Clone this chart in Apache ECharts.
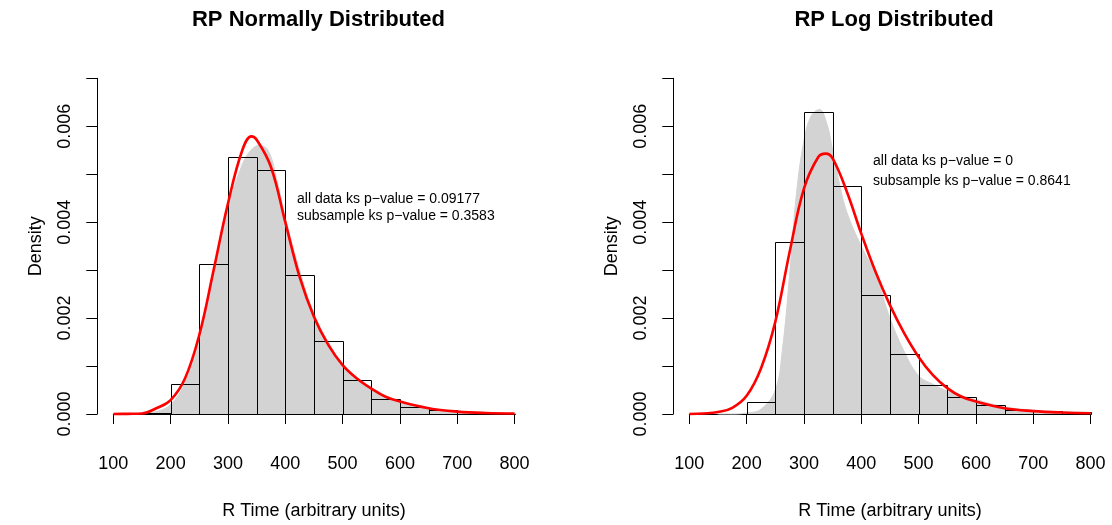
<!DOCTYPE html>
<html>
<head>
<meta charset="utf-8">
<script src="https://cdn.jsdelivr.net/npm/echarts@6/dist/echarts.min.js"></script>
<style>html,body{margin:0;padding:0;background:#fff}#c{width:1112px;height:525px}</style>
</head>
<body>
<div id="c"></div>
<script>
// ---------- data ----------
const titles = ['RP Normally Distributed', 'RP Log Distributed'];
const xAxisTitle = 'R Time (arbitrary units)';
const yAxisTitle = 'Density';

// histogram bins (left edge, right edge) and densities
const leftBinLo  = [150, 200, 250, 300, 350, 400, 450, 500, 550, 600, 650, 700, 750];
const leftBinHi  = [200, 250, 300, 350, 400, 450, 500, 550, 600, 650, 700, 750, 800];
const leftDens   = [0.00003, 0.00063, 0.00313, 0.00535, 0.00509, 0.00289, 0.00152, 0.00070, 0.00032, 0.00014, 0.00008, 0.00004, 0.00001];

const rightBinLo = [200, 250, 300, 350, 400, 450, 500, 550, 600, 650, 700, 750];
const rightBinHi = [250, 300, 350, 400, 450, 500, 550, 600, 650, 700, 750, 800];
const rightDens  = [0.00026, 0.00358, 0.00629, 0.00475, 0.00249, 0.00126, 0.00060, 0.00035, 0.00019, 0.00008, 0.00007, 0.00004];

// grey kernel density
const leftKdeX = [125, 150, 175, 200, 225, 250, 275, 300, 325, 340, 355, 370, 385, 400, 425, 450, 475, 500, 525, 550, 575, 600, 650, 700, 750, 800, 828];
const leftKdeY = [0, 0.00001, 0.00005, 0.0002, 0.00065, 0.0016, 0.0029, 0.0043, 0.0052, 0.0055, 0.0056, 0.0055, 0.0049, 0.0041, 0.0030, 0.0021, 0.0015, 0.00105, 0.00073, 0.00052, 0.00036, 0.00024, 0.00012, 0.00006, 0.00003, 0.00001, 0.000005];

const rightKdeX = [150, 175, 200, 225, 250, 262, 275, 287, 300, 312, 327, 340, 350, 362, 375, 400, 425, 450, 475, 500, 525, 550, 600, 650, 700, 750, 800, 828];
const rightKdeY = [0, 0, 0.00002, 0.0001, 0.0005, 0.0013, 0.0029, 0.0046, 0.0057, 0.0062, 0.00635, 0.00605, 0.0055, 0.0048, 0.0042, 0.0035, 0.0029, 0.0020, 0.0013, 0.0008, 0.00062, 0.00048, 0.0003, 0.00015, 0.00008, 0.00005, 0.00003, 0.00002];

// red fitted curves
const leftFitX = [100, 125, 150, 175, 200, 225, 250, 275, 300, 325, 341, 350, 375, 400, 425, 450, 475, 500, 525, 550, 575, 600, 650, 700, 750, 800];
const leftFitY = [0, 0.000003, 0.00001, 0.00012, 0.00029, 0.00074, 0.00165, 0.0030, 0.00439, 0.0055, 0.00579, 0.00572, 0.00515, 0.0040, 0.00286, 0.00203, 0.00144, 0.00102, 0.00074, 0.00053, 0.00036, 0.00026, 0.00012, 0.00005, 0.00002, 0.00001];

const rightFitX = [100, 125, 150, 175, 200, 225, 250, 275, 300, 325, 338, 350, 375, 400, 425, 450, 475, 500, 525, 550, 575, 600, 650, 700, 750, 800];
const rightFitY = [0, 0.00001, 0.00004, 0.00013, 0.00038, 0.00095, 0.00192, 0.00338, 0.0047, 0.00536, 0.00543, 0.00533, 0.00463, 0.00376, 0.00296, 0.00227, 0.00168, 0.00119, 0.00081, 0.00054, 0.00036, 0.00026, 0.00012, 0.00006, 0.00003, 0.000015];

const leftNotes  = ['all data ks p\u2212value = 0.09177', 'subsample ks p\u2212value = 0.3583'];
const rightNotes = ['all data ks p\u2212value = 0', 'subsample ks p\u2212value = 0.8641'];

// ---------- chart ----------
const FONT = '"Liberation Sans", Arial, Helvetica, sans-serif';
const zip = (a, b) => a.map((v, i) => [v, b[i]]);
const bins = (lo, hi, d) => lo.map((v, i) => [v, hi[i], d[i]]);

function renderBar(params, api) {
  const p0 = api.coord([api.value(0), api.value(2)]);
  const p1 = api.coord([api.value(1), 0]);
  const x0 = Math.round(p0[0]) + 0.5, x1 = Math.round(p1[0]) + 0.5;
  const y0 = Math.round(p0[1]) + 0.5, y1 = Math.round(p1[1]) + 0.5;
  return {
    type: 'rect',
    shape: { x: x0, y: y0, width: x1 - x0, height: y1 - y0 },
    style: { fill: 'none', stroke: '#000', lineWidth: 1 }
  };
}

const gridW = 401.3, gridH = 335.7;
const grids = [
  { left: 113.3, top: 78.3, width: gridW, height: gridH },
  { left: 689.3, top: 78.3, width: gridW, height: gridH }
];

function xAx(i) {
  return {
    type: 'value', gridIndex: i, min: 100, max: 800, interval: 100, offset: 14.7,
    splitLine: { show: false },
    axisLine: { show: true, lineStyle: { color: '#000', width: 1 } },
    axisTick: { show: true, length: 10, lineStyle: { color: '#000', width: 1 } },
    axisLabel: { color: '#000', fontSize: 18, fontFamily: FONT, margin: 26 },
    name: xAxisTitle, nameLocation: 'middle', nameGap: 73,
    nameTextStyle: { color: '#000', fontSize: 18, fontFamily: FONT }
  };
}
function yAx(i) {
  return {
    type: 'value', gridIndex: i, min: 0, max: 0.007, interval: 0.001, offset: 16,
    splitLine: { show: false },
    axisLine: { show: true, lineStyle: { color: '#000', width: 1 } },
    axisTick: { show: true, length: 11, lineStyle: { color: '#000', width: 1 } },
    axisLabel: {
      color: '#000', fontSize: 18, fontFamily: FONT, rotate: 90, margin: 23,
      formatter: v => (Math.round(v * 1e6) % 2000 === 0 ? v.toFixed(3) : '')
    },
    name: yAxisTitle, nameLocation: 'middle', nameGap: 52,
    nameTextStyle: { color: '#000', fontSize: 18, fontFamily: FONT }
  };
}

function panelSeries(i, lo, hi, d, kx, ky, fx, fy) {
  return [
    {
      type: 'line', xAxisIndex: i, yAxisIndex: i, data: zip(kx, ky), clip: false,
      smooth: 0.4, showSymbol: false, silent: true, z: 1,
      lineStyle: { width: 1, color: '#d3d3d3' }, itemStyle: { color: '#d3d3d3' },
      areaStyle: { color: '#d3d3d3', opacity: 1 }
    },
    {
      type: 'custom', xAxisIndex: i, yAxisIndex: i, data: bins(lo, hi, d),
      renderItem: renderBar, encode: { x: [0, 1], y: 2 }, silent: true, z: 2, clip: false
    },
    {
      type: 'line', xAxisIndex: i, yAxisIndex: i, data: zip(fx, fy), clip: false,
      smooth: 0.4, showSymbol: false, silent: true, z: 3,
      lineStyle: { width: 2.6, color: '#ff0000' }, itemStyle: { color: '#ff0000' }
    }
  ];
}

function notes(lines, x, y, gap) {
  return lines.map((t, k) => ({
    type: 'text', x: x, y: y + k * gap, z: 10,
    style: { text: t, fill: '#000', font: '14px ' + FONT, verticalAlign: 'middle', align: 'left' }
  }));
}

const chart = echarts.init(document.getElementById('c'), null, { renderer: 'canvas' });
chart.setOption({
  animation: false,
  backgroundColor: '#fff',
  title: [
    { text: titles[0], left: 313.5, top: 4, textAlign: 'center',
      textStyle: { fontSize: 22, fontWeight: 'bold', color: '#000', fontFamily: FONT } },
    { text: titles[1], left: 889, top: 4, textAlign: 'center',
      textStyle: { fontSize: 22, fontWeight: 'bold', color: '#000', fontFamily: FONT } }
  ],
  grid: grids,
  xAxis: [xAx(0), xAx(1)],
  yAxis: [yAx(0), yAx(1)],
  series: [].concat(
    panelSeries(0, leftBinLo, leftBinHi, leftDens, leftKdeX, leftKdeY, leftFitX, leftFitY),
    panelSeries(1, rightBinLo, rightBinHi, rightDens, rightKdeX, rightKdeY, rightFitX, rightFitY)
  ),
  graphic: [].concat(notes(leftNotes, 297, 199, 17), notes(rightNotes, 873, 161, 20))
});
</script>
</body>
</html>
